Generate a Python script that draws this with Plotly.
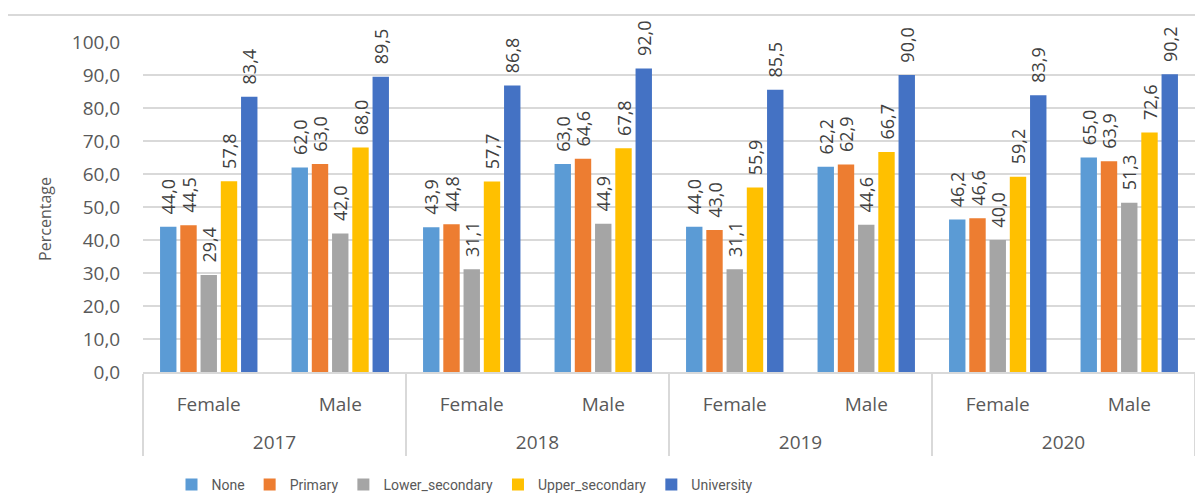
import plotly.graph_objects as go

years = ["2017", "2017", "2018", "2018", "2019", "2019", "2020", "2020"]
genders = ["Female", "Male", "Female", "Male", "Female", "Male", "Female", "Male"]

none_vals = [44.0, 62.0, 43.9, 63.0, 44.0, 62.2, 46.2, 65.0]
primary_vals = [44.5, 63.0, 44.8, 64.6, 43.0, 62.9, 46.6, 63.9]
lower_vals = [29.4, 42.0, 31.1, 44.9, 31.1, 44.6, 40.0, 51.3]
upper_vals = [57.8, 68.0, 57.7, 67.8, 55.9, 66.7, 59.2, 72.6]
univ_vals = [83.4, 89.5, 86.8, 92.0, 85.5, 90.0, 83.9, 90.2]

series = [
    ("None", none_vals, "#5B9BD5"),
    ("Primary", primary_vals, "#ED7D31"),
    ("Lower_secondary", lower_vals, "#A5A5A5"),
    ("Upper_secondary", upper_vals, "#FFC000"),
    ("University", univ_vals, "#4472C4"),
]

FONT = "Open Sans"
NBSP = "\u00a0"
# outer-level labels get an empty first line to sit lower, as in the reference
year_labels = [NBSP + "<br>" + y for y in years]

fig = go.Figure()
for name, vals, color in series:
    fig.add_trace(go.Bar(
        name=name,
        x=[year_labels, genders],
        y=vals,
        marker=dict(color=color, line=dict(width=0)),
        text=[NBSP * 2 + f"{v:.1f}".replace(".", ",") for v in vals],
        textposition="outside",
        textangle=-90,
        textfont=dict(family=FONT, size=18, color="#404040"),
        constraintext="none",
        cliponaxis=False,
    ))

# page body has an 8px default margin, so the figure is 8px smaller and offset
fig.update_layout(
    width=1195, height=487,
    margin=dict(l=135, r=8, t=34, b=123, autoexpand=False),
    paper_bgcolor="white", plot_bgcolor="white",
    barmode="group", bargap=0.23, bargroupgap=0.19,
    separators=",.",
    font=dict(family=FONT, color="#595959", size=15),
    legend=dict(orientation="h", x=(465 - 143) / 1052, xanchor="center", y=-0.342, yanchor="middle",
                yref="paper", font=dict(family="Roboto", size=14, color="#595959"),
                itemwidth=30, tracegroupgap=0),
    shapes=[dict(type="line", xref="paper", yref="paper", x0=-0.129, x1=1.002, y0=1.082, y1=1.082,
                 line=dict(color="#d9d9d9", width=2))],
    annotations=[dict(text="Percentage", xref="paper", yref="paper", x=(45 - 143) / 1052, y=0.464,
                      xanchor="center", yanchor="middle", textangle=-90, showarrow=False,
                      font=dict(family=FONT, size=16, color="#595959"))],
)
fig.update_yaxes(range=[0, 100], dtick=10, tickformat=".1f", showgrid=True,
                 gridcolor="#d9d9d9", gridwidth=1.5, zeroline=False, automargin=False,
                 tickfont=dict(size=19, color="#595959"),
                 ticks="outside", ticklen=18, tickcolor="rgba(0,0,0,0)",
                 showline=False)
fig.update_xaxes(type="multicategory", showline=True, linecolor="#d9d9d9", linewidth=1.5,
                 showdividers=True, dividercolor="#d9d9d9", dividerwidth=1.5, automargin=False,
                 tickfont=dict(size=19, color="#595959"),
                 ticks="outside", ticklen=6, tickcolor="rgba(0,0,0,0)",
                 ticklabelstandoff=14)

fig.write_html("out.html")
